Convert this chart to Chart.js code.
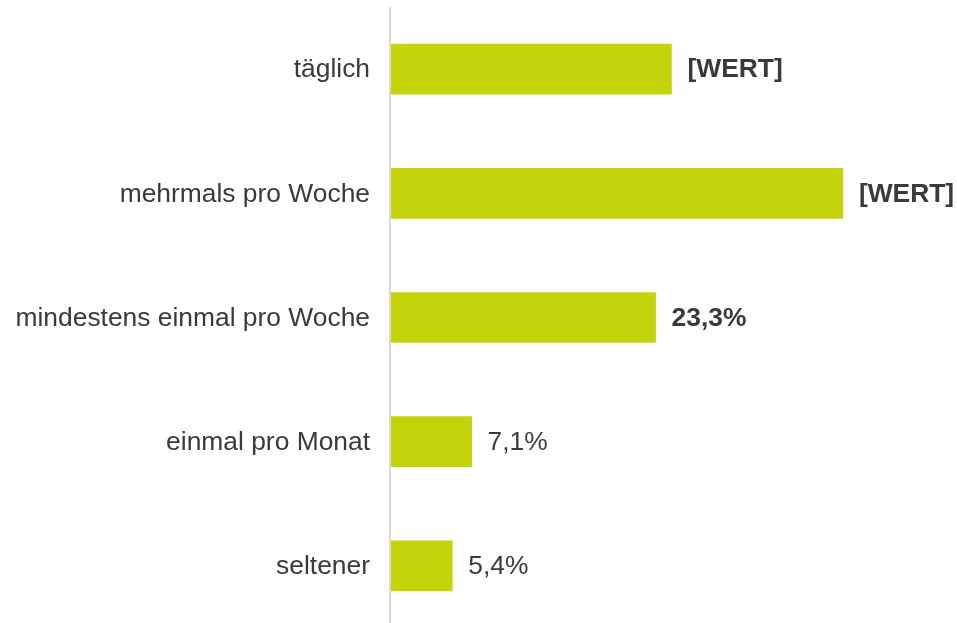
<!DOCTYPE html>
<html>
<head>
<meta charset="utf-8">
<script src="https://cdn.jsdelivr.net/npm/chart.js@4/dist/chart.umd.min.js"></script>
<style>
  html, body { margin: 0; padding: 0; background: #ffffff; overflow: hidden; }
  #wrap { position: relative; width: 957px; height: 628px; }
</style>
</head>
<body>
<div id="wrap"><canvas id="c" width="957" height="628"></canvas></div>
<script>
const categories = ["täglich", "mehrmals pro Woche", "mindestens einmal pro Woche", "einmal pro Monat", "seltener"];
const values = [24.7, 39.8, 23.3, 7.1, 5.4];
const valueLabels = ["[WERT]", "[WERT]", "23,3%", "7,1%", "5,4%"];

const TEXT = "#3a3a3a";
const FONT = "'Liberation Sans', Arial, sans-serif";
const boldIdx = new Set([0, 1, 2]);

const decor = {
  id: 'decor',
  beforeDatasetsDraw(chart) {
    const { ctx, chartArea } = chart;
    ctx.save();
    ctx.fillStyle = '#d9d9d9';
    ctx.fillRect(chartArea.left - 2, chartArea.top, 2, chartArea.bottom - chartArea.top);
    ctx.restore();
  },
  afterDatasetsDraw(chart) {
    const { ctx } = chart;
    const meta = chart.getDatasetMeta(0);
    ctx.save();
    ctx.fillStyle = TEXT;
    ctx.textAlign = 'left';
    ctx.textBaseline = 'middle';
    meta.data.forEach((bar, i) => {
      ctx.font = (boldIdx.has(i) ? 'bold ' : '') + '26.4px ' + FONT;
      ctx.fillText(valueLabels[i], bar.x + 16, bar.y + 1);
    });
    ctx.restore();
  }
};

new Chart(document.getElementById('c'), {
  type: 'bar',
  data: {
    labels: categories,
    datasets: [{
      data: values,
      backgroundColor: '#c5d30a',
      borderWidth: 0,
      barThickness: 50
    }]
  },
  options: {
    indexAxis: 'y',
    responsive: false,
    animation: false,
    layout: { padding: { top: 7, right: 21, bottom: 0, left: 0 } },
    plugins: { legend: { display: false }, tooltip: { enabled: false } },
    scales: {
      x: { display: false, min: 0, max: 48 },
      y: {
        afterFit(scale) {
          scale.width = 391;
          scale.paddingTop = 0;
          scale.paddingBottom = 0;
        },
        grid: { display: false, drawTicks: false },
        border: { display: false },
        ticks: {
          padding: 21,
          labelOffset: 1,
          color: TEXT,
          font: { family: FONT, size: 26.4 }
        }
      }
    }
  },
  plugins: [decor]
});
</script>
</body>
</html>
